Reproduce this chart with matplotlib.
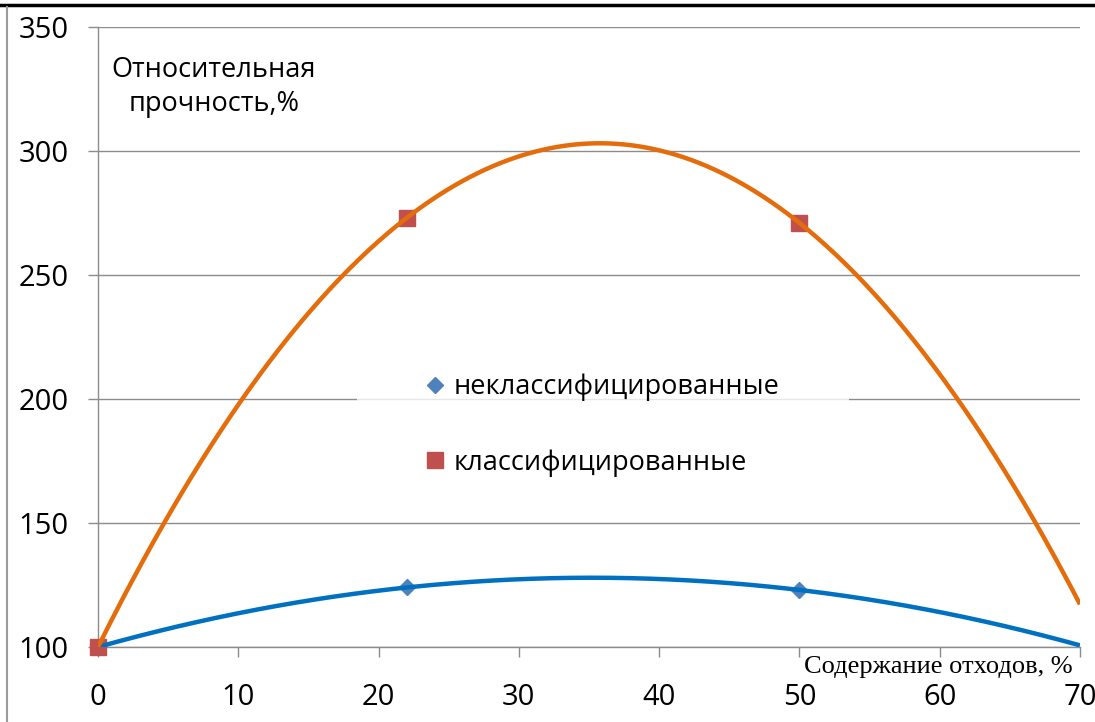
import numpy as np
import matplotlib.pyplot as plt
from matplotlib.lines import Line2D
from matplotlib.path import Path

# содержание отходов, % и относительная прочность, %
x_points = [0, 22, 50]
y_unclassified = [100, 124, 123]
y_classified = [100, 273, 271]

x_ticks = [0, 10, 20, 30, 40, 50, 60, 70]
y_ticks = [100, 150, 200, 250, 300, 350]

label_unclassified = 'неклассифицированные'
label_classified = 'классифицированные'

W, H = 1095, 722
fig = plt.figure(figsize=(W / 100, H / 100), dpi=100)
ax = fig.add_axes([98 / W, 1 - 647 / H, (1080 - 98) / W, (647 - 27) / H])

grid_color = '#8c8c8c'
sans = 'Open Sans'

# полиномиальные линии тренда 2-й степени
x_fit = np.linspace(0, 70, 400)
for ys, color in [(y_unclassified, '#0070C0'), (y_classified, '#E46C0A')]:
    coef = np.polyfit(x_points, ys, 2)
    ax.plot(x_fit, np.polyval(coef, x_fit), color=color, lw=3.2, zorder=4,
            solid_capstyle='butt')

ax.plot(x_points, y_unclassified, linestyle='none', marker='D', ms=8,
        color='#4F81BD', zorder=3, clip_on=False)
ax.plot(x_points, y_classified, linestyle='none', marker='s', ms=11.5,
        color='#C0504D', zorder=3, clip_on=False)

ax.set_xlim(0, 70)
ax.set_ylim(100, 350)
ax.set_xticks(x_ticks)
ax.set_yticks(y_ticks)
ax.yaxis.grid(True, color=grid_color, lw=1)
ax.set_axisbelow(True)

for side in ['top', 'right']:
    ax.spines[side].set_visible(False)
for side in ['left', 'bottom']:
    ax.spines[side].set_color(grid_color)
    ax.spines[side].set_linewidth(1)

ax.tick_params(axis='both', direction='out', length=7, width=1, color=grid_color,
               labelsize=21, labelcolor='black')
ax.tick_params(axis='y', pad=14)
ax.tick_params(axis='x', pad=19)
for lbl in ax.get_xticklabels() + ax.get_yticklabels():
    lbl.set_fontfamily(sans)


def wide_box(x0, y0, width, height, mutation_size):
    # фон легенды шире по горизонтали, чем по вертикали
    dx = 1.15 * mutation_size
    x1, y1 = x0 + width + dx, y0 + height
    x0 -= dx
    return Path([(x0, y0), (x1, y0), (x1, y1), (x0, y1), (x0, y0)],
                closed=True)


# легенда в центре, только маркеры
handles = [
    Line2D([], [], linestyle='none', marker='D', ms=8, color='#4F81BD'),
    Line2D([], [], linestyle='none', marker='s', ms=11.5, color='#C0504D'),
]
leg = ax.legend(handles, [label_unclassified, label_classified],
                loc='center', bbox_to_anchor=(0.514, 0.358),
                prop={'family': sans, 'size': 19.5}, labelspacing=1.76,
                handlelength=0.7, handletextpad=0.35, borderpad=1.4,
                frameon=True, fancybox=False, borderaxespad=0)
leg.get_frame().set_boxstyle(wide_box)
leg.get_frame().set_facecolor('white')
leg.get_frame().set_edgecolor('none')
leg.set_zorder(5)

fig.text(214 / W, 1 - 87 / H, 'Относительная\nпрочность,%', ha='center',
         va='center', multialignment='center', fontsize=19.5, family=sans,
         linespacing=1.3)
fig.text(1073 / W, 1 - 667 / H, 'Содержание отходов, %', ha='right',
         va='center', fontsize=19, family='Liberation Serif')

# рамка области диаграммы
fig.add_artist(Line2D([0, 1], [1 - 5 / H, 1 - 5 / H], color='black', lw=2.5))
fig.add_artist(Line2D([7 / W, 7 / W], [0, 1 - 7 / H], color='#9a9a9a', lw=1.5))

fig.savefig('out.png', dpi=100)
